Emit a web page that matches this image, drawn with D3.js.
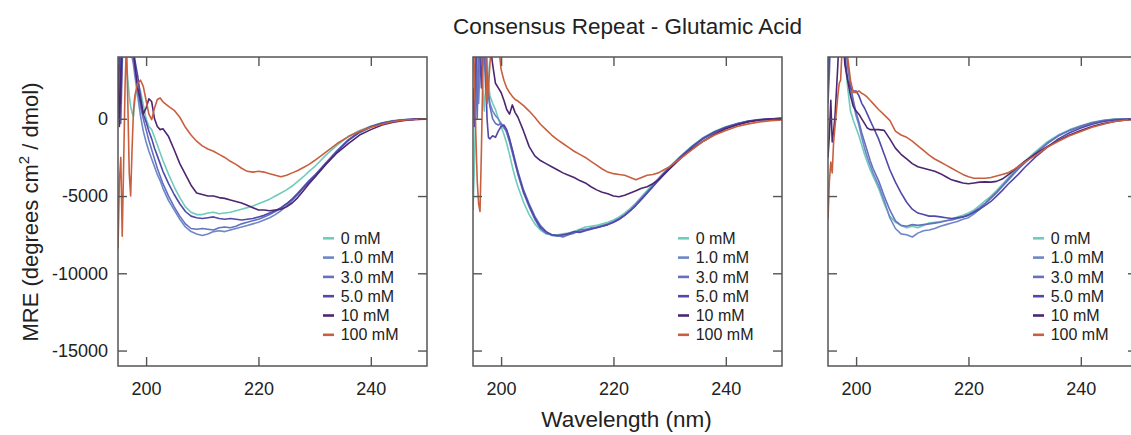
<!DOCTYPE html>
<html><head><meta charset="utf-8">
<script src="https://cdn.jsdelivr.net/npm/d3@7"></script>
<style>body{margin:0;background:#fff}</style>
</head><body><svg id="c" width="1131" height="435"></svg>
<script>
const title = "Consensus Repeat - Glutamic Acid";
const xLabel = "Wavelength (nm)";
const concentrations = ["0 mM","1.0 mM","3.0 mM","5.0 mM","10 mM","100 mM"];
const xTicks = [200,220,240];
const yTicks = [0,-5000,-10000,-15000];
const wavelengths = [195,195.25,195.5,195.75,196,196.25,196.5,196.75,197,197.25,197.5,197.75,198,
  198.5,199,199.5,200,200.5,201,201.5,202,202.5,203,
  204,205,206,207,208,209,210,211,212,213,214,215,216,217,218,219,220,221,222,223,224,225,226,227,228,229,230,
  232,234,236,238,240,242,244,246,248,250];

// Panel 1
const p1_0 = [6000,5000,3500,5000,6000,6000,4000,2500,1500,800,400,150,1200,
  2200,1800,900,0,-500,-700,-1200,-1700,-2200,-2700,
  -3600,-4400,-5100,-5700,-6050,-6200,-6200,-6100,-6050,-6150,-6100,-6050,-5950,-5850,-5750,-5650,-5500,-5350,-5200,-5000,-4800,-4600,-4350,-4050,-3750,-3400,-3100,
  -2350,-1700,-1150,-750,-480,-250,-120,-50,-30,-10];
const p1_1 = [3000,0,4500,6000,5500,6000,6000,5000,5500,4500,4000,3500,2800,
  1500,200,-800,-1500,-2100,-2600,-3100,-3600,-4000,-4500,
  -5300,-5900,-6500,-7000,-7300,-7450,-7550,-7450,-7300,-7250,-7300,-7200,-7100,-7000,-6900,-6800,-6700,-6550,-6400,-6200,-5950,-5650,-5300,-4900,-4500,-4100,-3700,
  -2900,-2100,-1400,-900,-550,-300,-150,-70,-30,-10];
const p1_3 = [5000,1500,-300,3500,6000,5000,6000,6000,4000,5000,4500,3800,3200,
  2000,800,0,-700,-1400,-2000,-2600,-3200,-3700,-4200,
  -5000,-5700,-6300,-6800,-7100,-7150,-7100,-7150,-7200,-7050,-7000,-7050,-6950,-6800,-6700,-6600,-6500,-6350,-6200,-6000,-5800,-5500,-5200,-4800,-4400,-4000,-3650,
  -2850,-2050,-1350,-850,-500,-280,-140,-60,-20,0];
const p1_5 = [6000,4000,1000,4500,6000,6000,5500,6000,5000,6000,5000,4500,3800,
  2800,1500,300,-200,-800,-1300,-1900,-2400,-2900,-3400,
  -4200,-4900,-5500,-6000,-6300,-6400,-6450,-6400,-6350,-6450,-6500,-6450,-6500,-6550,-6500,-6450,-6350,-6250,-6100,-5950,-5750,-5500,-5200,-4850,-4450,-4050,-3700,
  -2900,-2100,-1400,-850,-520,-290,-140,-60,-20,0];
const p1_10 = [3500,-500,2500,6000,6000,4000,6000,6000,5000,4000,5500,4500,3500,
  2000,1200,300,700,1300,1100,0,-500,-700,-650,
  -1150,-2000,-2900,-3600,-4300,-4800,-4900,-5000,-5000,-5100,-5150,-5250,-5350,-5450,-5600,-5750,-5900,-5900,-5950,-5900,-5850,-5700,-5450,-5100,-4650,-4200,-3800,
  -2950,-2200,-1600,-1050,-700,-400,-220,-100,-40,-10];
const p1_100 = [-8400,-4000,-2500,-7600,-3000,2000,5000,1000,-3500,-5000,-2000,500,1500,
  2300,2500,2100,1200,300,-50,700,1250,1350,1100,
  800,550,100,-550,-1050,-1450,-1750,-1950,-2100,-2300,-2500,-2750,-2950,-3200,-3400,-3450,-3400,-3450,-3550,-3650,-3750,-3650,-3500,-3350,-3150,-2950,-2700,
  -2150,-1600,-1150,-800,-550,-350,-180,-80,-50,-20];

// Panel 2
const p2_0 = [-5900,-3000,1000,4000,6000,6000,5000,2000,500,2000,4000,2500,1500,
  1000,600,0,-500,-1000,-1600,-2300,-3100,-3800,-4400,
  -5400,-6200,-6800,-7200,-7450,-7500,-7500,-7450,-7400,-7300,-7150,-7000,-6950,-6900,-6800,-6700,-6550,-6350,-6100,-5800,-5450,-5050,-4650,-4250,-3850,-3450,-3100,
  -2400,-1750,-1200,-800,-520,-300,-150,-60,-10,30];
const p2_1 = [4000,6000,6000,3000,1000,3500,6000,6000,4000,2000,3000,1800,1000,
  500,200,0,-300,-600,-800,-1300,-2000,-2700,-3400,
  -4600,-5500,-6300,-6900,-7300,-7550,-7600,-7550,-7400,-7350,-7300,-7200,-7050,-7000,-6900,-6800,-6650,-6450,-6200,-5900,-5500,-5100,-4700,-4300,-3900,-3500,-3150,
  -2450,-1800,-1250,-850,-550,-330,-180,-80,-20,30];
const p2_3 = [6000,6000,3000,0,4000,6000,5000,3500,6000,5000,3000,1500,800,
  0,-300,-400,-300,-500,-900,-1500,-2200,-2900,-3600,
  -4800,-5700,-6500,-7100,-7400,-7500,-7550,-7650,-7500,-7400,-7200,-7150,-7100,-7050,-6950,-6850,-6700,-6500,-6250,-5950,-5600,-5200,-4800,-4400,-4000,-3600,-3200,
  -2500,-1850,-1300,-900,-580,-350,-180,-80,-10,40];
const p2_5 = [2000,-500,3000,6000,6000,4000,2000,5000,6000,3000,0,-1200,-1300,
  -1100,-1200,-800,-500,-400,-700,-1300,-2000,-2800,-3500,
  -4700,-5600,-6400,-7000,-7300,-7500,-7550,-7500,-7450,-7300,-7350,-7250,-7150,-7050,-6950,-6850,-6700,-6500,-6250,-5950,-5600,-5200,-4800,-4400,-3950,-3550,-3150,
  -2450,-1800,-1250,-850,-550,-320,-150,-50,0,40];
const p2_10 = [6000,6000,4000,6000,6000,5000,6000,6000,5000,6000,6000,5500,5000,
  3500,2300,2000,1700,1200,600,300,900,400,100,
  -800,-1800,-2400,-2700,-2900,-3100,-3300,-3500,-3650,-3800,-4000,-4150,-4400,-4600,-4750,-4850,-5000,-5050,-4950,-4800,-4650,-4500,-4400,-4200,-3950,-3600,-3250,
  -2550,-1950,-1450,-1000,-650,-400,-200,-80,-20,20];
const p2_100 = [6000,3000,-1000,-4000,-5500,-6000,-2000,3000,6000,4000,1000,2000,3500,
  6000,6000,5000,3200,2500,2000,1700,1450,1250,1150,
  850,500,100,-350,-700,-1050,-1350,-1600,-1850,-2100,-2300,-2500,-2750,-3000,-3250,-3450,-3550,-3600,-3650,-3800,-3950,-3800,-3650,-3600,-3500,-3300,-3100,
  -2550,-2000,-1450,-1050,-750,-500,-330,-200,-120,-70];

// Panel 3
const p3_0 = [4000,6000,6000,5000,6000,6000,5000,6000,6000,5000,6000,5000,4000,
  2000,500,-100,-600,-1100,-1700,-2300,-2800,-3300,-3700,
  -4500,-5500,-6300,-6700,-6900,-7050,-6950,-7050,-6900,-6750,-6700,-6650,-6600,-6500,-6350,-6250,-6100,-5900,-5600,-5300,-5000,-4650,-4250,-3850,-3450,-3100,-2750,
  -2100,-1500,-1050,-700,-450,-230,-90,-20,0,10];
const p3_1 = [2000,5000,6000,6000,4000,6000,6000,5000,6000,6000,5500,5000,5000,
  3500,2000,1000,200,-400,-1200,-1900,-2500,-3000,-3500,
  -4300,-5300,-6400,-7100,-7450,-7500,-7650,-7400,-7250,-7200,-7100,-6950,-6850,-6750,-6650,-6500,-6400,-6150,-5850,-5500,-5150,-4800,-4400,-4000,-3600,-3200,-2850,
  -2200,-1600,-1100,-750,-480,-280,-130,-50,-20,10];
const p3_3 = [1000,3000,6000,6000,5000,6000,6000,6000,5000,6000,6000,6000,5500,
  3500,2200,1200,400,-200,-900,-1500,-2100,-2700,-3200,
  -4000,-5000,-5900,-6600,-6900,-6950,-6850,-6900,-6850,-6800,-6750,-6700,-6600,-6550,-6450,-6350,-6200,-6000,-5750,-5450,-5100,-4750,-4350,-3950,-3550,-3200,-2850,
  -2200,-1600,-1100,-750,-480,-260,-120,-40,-10,10];
const p3_5 = [2000,4000,6000,6000,6000,5000,6000,6000,6000,6000,6000,5000,4000,
  2500,2000,1800,1800,1500,1000,700,300,-100,-500,
  -1300,-2300,-3300,-4100,-4800,-5400,-5850,-6100,-6200,-6300,-6300,-6350,-6400,-6450,-6400,-6350,-6250,-6050,-5850,-5600,-5350,-5000,-4650,-4250,-3900,-3550,-3150,
  -2450,-1850,-1300,-900,-600,-350,-180,-80,-30,0];
const p3_10 = [-2500,-1000,1200,-1500,-800,200,1800,3500,5500,6000,6000,5000,3500,
  2500,1500,800,500,300,0,-300,-600,-700,-700,
  -700,-750,-1300,-1900,-2300,-2600,-2900,-3100,-3200,-3300,-3400,-3550,-3750,-3950,-4050,-4150,-4200,-4150,-4100,-4080,-4100,-4050,-3900,-3650,-3350,-3050,-2750,
  -2250,-1800,-1400,-1050,-750,-500,-300,-170,-80,-40];
const p3_100 = [-6500,-4000,-2800,-3500,-1500,-500,500,1500,2300,2500,4500,5500,6000,
  4000,2500,1700,1700,1800,1650,1550,1400,1200,1000,
  600,250,-100,-800,-1050,-1200,-1450,-1750,-2050,-2350,-2600,-2800,-3000,-3200,-3400,-3600,-3750,-3850,-3850,-3850,-3800,-3700,-3600,-3500,-3300,-3050,-2800,
  -2350,-1850,-1450,-1100,-820,-550,-350,-170,-80,-40];

const panels = [
  [p1_0,p1_1,p1_3,p1_5,p1_10,p1_100],
  [p2_0,p2_1,p2_3,p2_5,p2_10,p2_100],
  [p3_0,p3_1,p3_3,p3_5,p3_10,p3_100]
];

// ---- styling / layout ----
const colors = ["#6fcbbb","#6f86c8","#6571bf","#5049a9","#4d2671","#c8603f"];
const FONT = "'Liberation Sans', Arial, Helvetica, sans-serif";
const TXT = "#222";
const AX = "#555";
const plotTop = 57, plotBottom = 366, pw = 309, lefts = [118, 473, 828];

const svg = d3.select("#c");
svg.append("rect").attr("width",1131).attr("height",435).attr("fill","#fff");

const y = d3.scaleLinear().domain([-16000, 4000]).range([plotBottom, plotTop]);

lefts.forEach((L, pi) => {
  const x = d3.scaleLinear().domain([195, 250]).range([L, L + pw]);
  const g = svg.append("g");
  const cid = "clip" + pi;
  g.append("clipPath").attr("id", cid).append("rect")
    .attr("x", L).attr("y", plotTop).attr("width", pw).attr("height", plotBottom - plotTop);

  const line = d3.line().x((d, i) => x(wavelengths[i])).y(d => y(d));
  const lg = g.append("g").attr("clip-path", `url(#${cid})`);
  panels[pi].forEach((s, si) => {
    lg.append("path").datum(s).attr("d", line)
      .attr("fill", "none").attr("stroke", colors[si])
      .attr("stroke-width", 1.6).attr("stroke-linejoin", "round");
  });

  const styleAxis = sel => {
    sel.select(".domain").remove();
    sel.selectAll(".tick line").attr("stroke", AX).attr("stroke-width", 1.4);
    sel.selectAll("text").attr("font-family", FONT).attr("font-size", 18).attr("fill", TXT);
  };
  g.append("g").attr("transform", `translate(0,${plotBottom})`)
    .call(d3.axisBottom(x).tickValues(xTicks).tickSizeInner(-9).tickSizeOuter(0).tickPadding(16)
      .tickFormat(d => String(d)))
    .call(styleAxis);
  g.append("g").attr("transform", `translate(0,${plotTop})`)
    .call(d3.axisTop(x).tickValues(xTicks).tickSizeInner(-9).tickSizeOuter(0).tickFormat(""))
    .call(styleAxis);
  g.append("g").attr("transform", `translate(${L},0)`)
    .call(d3.axisLeft(y).tickValues(yTicks).tickSizeInner(-9).tickSizeOuter(0).tickPadding(10)
      .tickFormat(pi === 0 ? (d => String(d)) : ""))
    .call(styleAxis);
  g.append("g").attr("transform", `translate(${L + pw},0)`)
    .call(d3.axisRight(y).tickValues(yTicks).tickSizeInner(-9).tickSizeOuter(0).tickFormat(""))
    .call(styleAxis);

  g.append("rect").attr("x", L).attr("y", plotTop).attr("width", pw).attr("height", plotBottom - plotTop)
    .attr("fill", "none").attr("stroke", AX).attr("stroke-width", 1.5);

  const lgd = g.append("g");
  concentrations.forEach((c, i) => {
    const cy = 238.3 + i * 19.3;
    lgd.append("line").attr("x1", L + 205).attr("x2", L + 216).attr("y1", cy).attr("y2", cy)
      .attr("stroke", colors[i]).attr("stroke-width", 2.6);
    lgd.append("text").attr("x", L + 222.7).attr("y", cy + 5.6)
      .attr("font-family", FONT).attr("font-size", 16).attr("fill", TXT).text(c);
  });
});

svg.append("text").attr("x", 627.5).attr("y", 34).attr("text-anchor", "middle")
  .attr("font-family", FONT).attr("font-size", 22.5).attr("fill", TXT).text(title);
svg.append("text").attr("x", 626.5).attr("y", 427).attr("text-anchor", "middle")
  .attr("font-family", FONT).attr("font-size", 22.5).attr("fill", TXT).text(xLabel);

const yl = svg.append("text").attr("transform", "translate(38,212) rotate(-90)")
  .attr("text-anchor", "middle").attr("font-family", FONT).attr("font-size", 22).attr("fill", TXT);
yl.append("tspan").text("MRE (degrees cm");
yl.append("tspan").attr("dy", -9).attr("font-size", 15).text("2");
yl.append("tspan").attr("dy", 9).text(" / dmol)");
</script>
</body></html>
